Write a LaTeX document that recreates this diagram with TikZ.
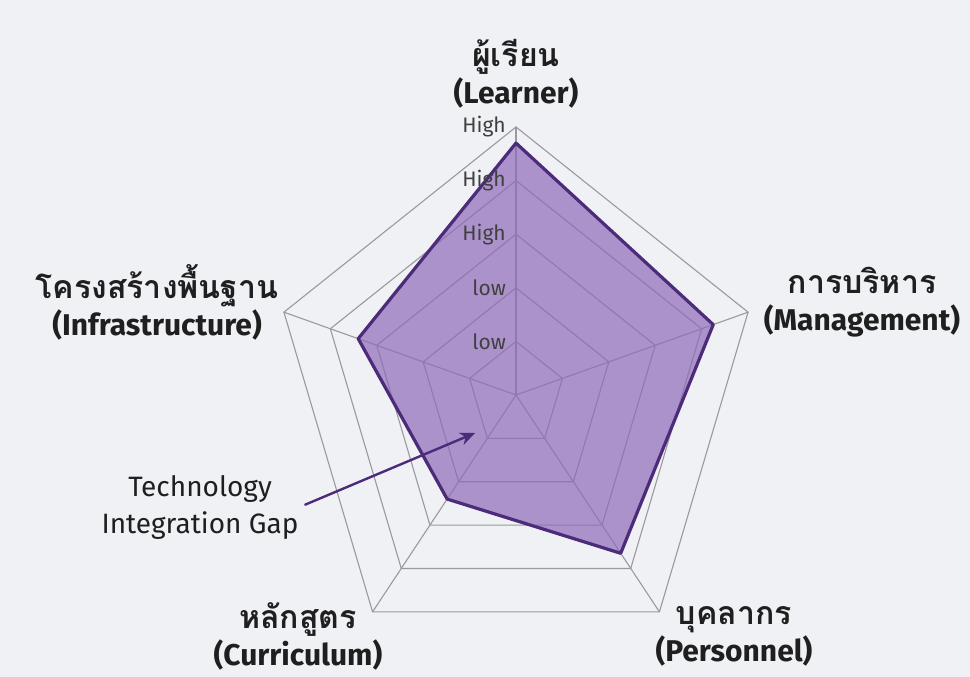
\documentclass[tikz,border=0pt]{standalone}
\usepackage{fontspec}
\setmainfont{Fira Sans}
\newfontfamily\thaifont[Script=Thai, Scale=1.07]{Loma}
\usetikzlibrary{arrows.meta}
\definecolor{bgpaper}{HTML}{F0F1F5}
\definecolor{gridgray}{HTML}{9A9A9E}
\definecolor{gapfill}{HTML}{8E6BB8}
\definecolor{gapline}{HTML}{4B2B7A}

\begin{document}
\begin{tikzpicture}[x=1pt,y=-1pt,
	line join=round, line cap=round,
	every node/.style={inner sep=1pt, text=black!88},
	ring/.style={draw=gridgray, line width=1.1pt},
	level/.style={anchor=east, inner xsep=10pt, font=\fontsize{21}{21}\selectfont, text=black!75},
	axisname/.style={align=center, font=\fontsize{30}{37}\selectfont\bfseries},
	gaparrow/.style={draw=gapline, line width=2.4pt, -{Stealth[length=15pt,width=13pt]}}
	]
	\fill[bgpaper] (0,0) rectangle (970,677);
	\begin{scope}[shift={(516,395)}, xscale=244, yscale=-268]
		% web
		\foreach \r in {0.2,0.4,0.6,0.8,1}
		\draw[ring] (90:\r) -- (18:\r) -- (-54:\r) -- (-126:\r) -- (162:\r) -- cycle;
		\foreach \a in {90,18,-54,-126,162}
		\draw[ring] (0,0) -- (\a:1);
		% scores
		\fill[gapfill, opacity=.7] (90:.94) -- (18:.85) -- (-54:.73) -- (-126:.48) -- (162:.68) -- cycle;
		\draw[gapline, line width=3.2pt] (90:.94) -- (18:.85) -- (-54:.73) -- (-126:.48) -- (162:.68) -- cycle;
		\foreach \r/\t [count=\i] in {1/High,.8/High,.6/High,.4/low,.2/low}
		\node[level] (lvl\i) at (90:\r) {\t};
	\end{scope}
	
	\node[axisname] (learner) at (516,74) {{\thaifont\bfseries ผู้เรียน}\\\bfseries(Learner)};
	\node[axisname] (manage) at (862,302) {{\thaifont\bfseries การบริหาร}\\\bfseries(Management)};
	\node[axisname] (infra) at (157,302) {{\thaifont\bfseries โครงสร้างพื้นฐาน}\\\bfseries(Infrastructure)};
	\node[axisname] (curric) at (298,636) {{\thaifont\bfseries หลักสูตร}\\\bfseries(Curriculum)};
	\node[axisname] (person) at (734,636) {{\thaifont\bfseries บุคลากร}\\\bfseries(Personnel)};
	
	\node[align=center, font=\fontsize{28}{37}\selectfont] (gaptext) at (200,507) {Technology\\Integration Gap};
	\coordinate (gaptip) at (475,433);
	\draw[gaparrow, shorten <=6pt] (gaptext.east) -- (gaptip);
\end{tikzpicture}
\end{document}
